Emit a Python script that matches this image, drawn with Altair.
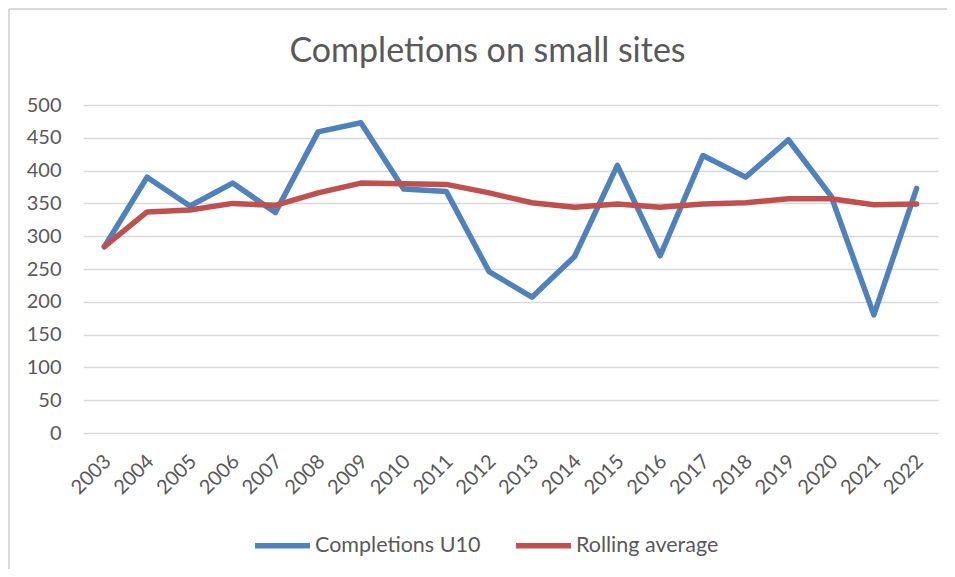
import altair as alt
import pandas as pd

years = [str(y) for y in range(2003, 2023)]
completions = [284, 390, 346, 381, 336, 459, 473, 372, 368, 246,
               207, 269, 408, 270, 423, 390, 447, 361, 180, 373]
rolling = [284, 337, 340, 350, 347, 366, 381, 380, 379, 366,
           351, 344, 349, 344, 349, 351, 357, 357, 348, 349]
series_names = ["Completions U10", "Rolling average"]
series_colors = ["#4f81bd", "#c0504d"]
y_ticks = list(range(0, 501, 50))

rows = []
for i, yr in enumerate(years):
    rows.append({"year": yr, "series": series_names[0], "value": completions[i]})
    rows.append({"year": yr, "series": series_names[1], "value": rolling[i]})
df = pd.DataFrame(rows)

TXT = "#595959"
FONT = "Lato"

lines = alt.Chart(df).mark_line(strokeWidth=5.5, strokeCap="round", strokeJoin="round").encode(
    x=alt.X("year:O", sort=years,
            scale=alt.Scale(type="point", padding=0.5),
            axis=alt.Axis(title=None, labelAngle=-45, labelAlign="right", labelBaseline="middle",
                          labelFontSize=20, labelColor=TXT, labelFont=FONT, labelOffset=3,
                          domain=False, ticks=False, tickSize=0, grid=False, labelPadding=25)),
    y=alt.Y("value:Q", scale=alt.Scale(domain=[0, 500], nice=False),
            axis=alt.Axis(title=None, values=y_ticks, labelFontSize=20, labelColor=TXT,
                          labelFont=FONT, domain=False, ticks=False, tickSize=0,
                          labelPadding=22, gridColor="#d9d9d9", gridWidth=1.5)),
    color=alt.Color("series:N", sort=series_names,
                    scale=alt.Scale(domain=series_names, range=series_colors),
                    legend=alt.Legend(title=None, orient="none", direction="horizontal",
                                      legendX=169, legendY=410,
                                      symbolType="stroke", symbolSize=3025,
                                      symbolStrokeWidth=5.5, labelFontSize=21.5,
                                      labelColor=TXT, labelFont=FONT, labelOffset=2,
                                      labelLimit=400, columnPadding=24)),
)

border_left = alt.Chart().mark_rule(color="#d9d9d9", strokeWidth=2).encode(
    x=alt.value(-74), y=alt.value(-96), y2=alt.value(470))
border_top = alt.Chart().mark_rule(color="#d9d9d9", strokeWidth=2).encode(
    x=alt.value(-74), x2=alt.value(900), y=alt.value(-96))

chart = alt.layer(lines, border_left, border_top).properties(
    width=855, height=328,
    title=alt.TitleParams("Completions on small sites", fontSize=34, color=TXT, font=FONT,
                          fontWeight="normal", anchor="middle", dx=-23, offset=-88,
                          baseline="alphabetic"),
    autosize=alt.AutoSizeParams(type="none"),
    padding={"left": 75, "top": 97, "right": 9, "bottom": 136},
).configure_view(stroke=None)

chart.save("out.html", embed_options={"renderer": "svg", "actions": False})
